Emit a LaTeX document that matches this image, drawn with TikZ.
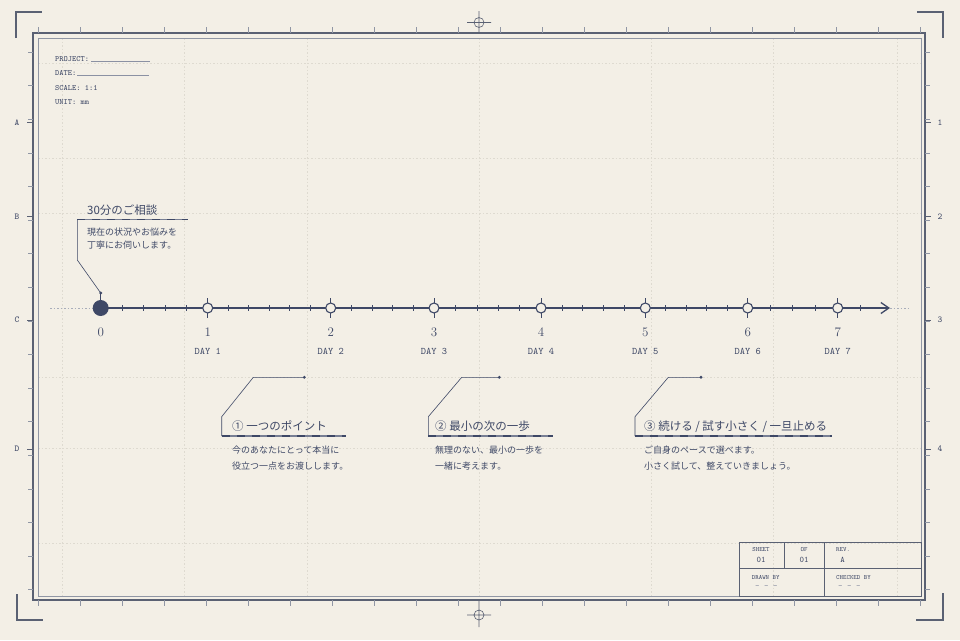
\documentclass[tikz,border=0pt]{standalone}
\usepackage{fontspec}
\newfontfamily\jpfont{Noto Sans CJK JP}
\usetikzlibrary{positioning, calc, arrows.meta}

\definecolor{paper}{HTML}{F3EFE6}
\definecolor{ink}{HTML}{3E4866}
\definecolor{framedark}{HTML}{5A6173}
\definecolor{framelight}{HTML}{9096A4}
\definecolor{gridline}{HTML}{DEDAD0}

\pgfdeclarelayer{paperlayer}
\pgfdeclarelayer{axislayer}
\pgfsetlayers{paperlayer,axislayer,main}

\tikzset{
	daynode/.style={circle, draw=ink, fill=paper, line width=1.1pt, inner sep=0pt, minimum size=10pt},
	startnode/.style={circle, fill=ink, inner sep=0pt, minimum size=16pt},
	daynum/.style={text=ink, inner sep=0pt, font=\fontsize{13}{13}\selectfont},
	daylabel/.style={text=ink, inner sep=0pt, font=\ttfamily\fontsize{10}{10}\selectfont},
	notetitle/.style={text=ink, inner sep=0pt, anchor=base west, font=\jpfont\fontsize{11.5}{11.5}\selectfont},
	notebody/.style={text=ink, inner sep=0pt, align=left, font=\jpfont\fontsize{9}{16}\selectfont},
	leader/.style={draw=ink, line width=0.6pt},
	underline/.style={draw=ink!70, line width=1.1pt, postaction={draw=ink, dash pattern=on 8pt off 7pt}},
	metatext/.style={text=ink, inner sep=0pt, anchor=base west, font=\ttfamily\fontsize{8}{8}\selectfont},
	metaline/.style={draw=ink!60, line width=0.6pt},
	blocktext/.style={text=ink, inner sep=0pt, font=\ttfamily\fontsize{6.5}{6.5}\selectfont},
	blockvalue/.style={text=ink, inner sep=0pt, font=\ttfamily\fontsize{8.5}{8.5}\selectfont},
	edgetick/.style={draw=framelight, line width=0.6pt},
	edgeletter/.style={text=ink, inner sep=0pt, font=\ttfamily\fontsize{9}{9}\selectfont},
	gridrule/.style={draw=gridline, line width=0.5pt, dash pattern=on 1.5pt off 2pt},
	axisext/.style={draw=ink!45, line width=0.5pt, dash pattern=on 1.5pt off 2pt},
}

\begin{document}
\begin{tikzpicture}[x=1pt, y=-1pt]
	\useasboundingbox (0,0) rectangle (960,640);
	\begin{pgfonlayer}{paperlayer}
		\fill[paper] (0,0) rectangle (960,640);
		\foreach \x in {62,184,307,479,651,773,897}
			\draw[gridrule] (\x,38) -- (\x,596);
		\foreach \y in {63,158,213,377,448,543}
			\draw[gridrule] (38,\y) -- (921,\y);
	\end{pgfonlayer}

	% sheet frame
	\draw[framedark, line width=1.6pt] (33,33) rectangle (925,600);
	\draw[framelight, line width=0.8pt] (38,38) rectangle (921,596);
	\foreach \x in {0,...,21} {
		\draw[edgetick] (38+42*\x,33) -- ++(0,-6);
		\draw[edgetick] (38+42*\x,600) -- ++(0,6);
	}
	\foreach \k in {0,...,16} {
		\draw[edgetick] (33,52+33.6*\k) -- ++(-5,0);
		\draw[edgetick] (925,52+33.6*\k) -- ++(5,0);
	}
	\foreach \y/\l/\r in {122.7/A/1, 216.7/B/2, 320/C/3, 449/D/4} {
		\draw[edgetick, draw=framedark] (33,\y) -- ++(-6,0);
		\draw[edgetick, draw=framedark] (925,\y) -- ++(6,0);
		\node[edgeletter] (left\l) at (17,\y) {\l};
		\node[edgeletter] (right\r) at (940,\y) {\r};
	}
	\draw[framedark, line width=1.2pt] (16,38) -- (16,12) -- (42,12);
	\draw[framedark, line width=1.2pt] (917,12) -- (943,12) -- (943,38);
	\draw[framedark, line width=1.2pt] (17,594) -- (17,620) -- (43,620);
	\draw[framedark, line width=1.2pt] (916,620) -- (943,620) -- (943,593);
	\draw[framedark, line width=0.6pt] (479,22.5) circle (5pt) (467,22.5) -- (491,22.5) (479,11) -- (479,33);
	\draw[framedark, line width=0.6pt] (479,615) circle (5pt) (467,615) -- (491,615) (479,600) -- (479,627);

	% sheet data
	\node[metatext] (project) at (55,61) {PROJECT:};
	\draw[metaline] (91,61) -- (150,61);
	\node[metatext] (date) at (55,75.2) {DATE:};
	\draw[metaline] (77,75.3) -- (149,75.3);
	\node[metatext] (scale) at (55,90.2) {SCALE: 1:1};
	\node[metatext] (unit) at (55,104.2) {UNIT: mm};

	% timeline
	\node[startnode] (d0) at (100.7,308) {};
	\node[daynode] (d1) at (207.7,308) {};
	\node[daynode] (d2) at (330.7,308) {};
	\node[daynode] (d3) at (434,308) {};
	\node[daynode] (d4) at (541,308) {};
	\node[daynode] (d5) at (645.3,308) {};
	\node[daynode] (d6) at (747.7,308) {};
	\node[daynode] (d7) at (837.7,308) {};
	\coordinate (tip) at (890,308);
	\coordinate (axisend) at (910,308);
	\coordinate (axisstart) at (50,308);
	\begin{pgfonlayer}{axislayer}
		\draw[ink, line width=1.3pt, -{Straight Barb[length=8pt, width=11pt]}] (d0.center) -- (tip);
		\draw[axisext] (tip) -- (axisend);
		\draw[axisext] (axisstart) -- (d0.west);
		\foreach \i in {1,...,7}
			\draw[ink, line width=0.9pt] (d\i.center) ++(0,-10) -- ++(0,20);
		\foreach \a/\b/\n/\m in {0/1/5/4, 1/2/6/5, 2/3/5/4, 3/4/5/4, 4/5/5/4, 5/6/5/4, 6/7/4/3}
			\foreach \k in {1,...,\m}
				\draw[ink, line width=0.6pt] ($(d\a.center)!\k/\n!(d\b.center)$) ++(0,-3) -- ++(0,6);
		\draw[ink, line width=0.6pt] ($(d6.center)!1.25!(d7.center)$) ++(0,-3) -- ++(0,6);
	\end{pgfonlayer}
	\foreach \i in {0,...,7} {
		\node[daynum, below=20pt of d\i.center] (n\i) {\i};
	}
	\foreach \i in {1,...,7} {
		\node[daylabel, below=11pt of n\i] (l\i) {DAY \i};
	}

	% first session
	\coordinate (stem) at (100.7,293);
	\coordinate (c0) at (77.3,219.3);
	\draw[leader] (d0.north) -- (stem);
	\fill[ink] (stem) circle (1.6pt);
	\draw[leader] (stem) -- (77.3,260) -- (c0);
	\draw[underline] (c0) -- (188,219.3);
	\node[notetitle] (t0) at (87,214.5) {30分のご相談};
	\node[notebody, font=\jpfont\fontsize{9}{13.3}\selectfont, below=13pt of t0.base west, anchor=north west] (b0) {現在の状況やお悩みを\\丁寧にお伺いします。};

	% notes
	\coordinate (k1) at (304.3,377.3);
	\coordinate (c1) at (221.7,436);
	\draw[leader] (k1) -- (253.3,377.3) -- (221.7,416.7) -- (c1);
	\fill[ink] (k1) circle (1.6pt);
	\draw[underline] (c1) -- (346,436);
	\node[notetitle] (t1) at (232,430.5) {① 一つのポイント};
	\node[notebody, below=15pt of t1.base west, anchor=north west] (b1) {今のあなたにとって本当に\\役立つ一点をお渡しします。};

	\coordinate (k2) at (499.3,377.3);
	\coordinate (c2) at (428.3,436);
	\draw[leader] (k2) -- (461.7,377.3) -- (428.3,416.7) -- (c2);
	\fill[ink] (k2) circle (1.6pt);
	\draw[underline] (c2) -- (553.3,436);
	\node[notetitle] (t2) at (435,430.5) {② 最小の次の一歩};
	\node[notebody, below=15pt of t2.base west, anchor=north west] (b2) {無理のない、最小の一歩を\\一緒に考えます。};

	\coordinate (k3) at (701,377.3);
	\coordinate (c3) at (635,436);
	\draw[leader] (k3) -- (668.3,377.3) -- (635,416.7) -- (c3);
	\fill[ink] (k3) circle (1.6pt);
	\draw[underline] (c3) -- (831.7,436);
	\node[notetitle] (t3) at (644,430.5) {③ 続ける / 試す小さく / 一旦止める};
	\node[notebody, below=15pt of t3.base west, anchor=north west] (b3) {ご自身のペースで選べます。\\小さく試して、整えていきましょう。};

	% title block
	\draw[framedark, line width=0.9pt] (739,542) rectangle (921,596);
	\draw[framedark, line width=0.9pt] (739,568) -- (921,568) (784,542) -- (784,568) (824,542) -- (824,596);
	\node[blocktext] (sheet) at (761,549.3) {SHEET};
	\node[blockvalue] (sheetno) at (761,560) {01};
	\node[blocktext] (of) at (804,549.3) {OF};
	\node[blockvalue] (ofno) at (804,560) {01};
	\node[blocktext, anchor=west] (rev) at (836,549.3) {REV.};
	\node[blockvalue] (revno) at (842.7,560) {A};
	\node[blocktext, anchor=west] (drawn) at (751.7,577.3) {DRAWN BY};
	\node[blockvalue, anchor=west, text=ink!60] (drawnby) at (755,587) {- - -};
	\node[blocktext, anchor=west] (checked) at (836,577.3) {CHECKED BY};
	\node[blockvalue, anchor=west, text=ink!60] (checkedby) at (838,587) {- - -};
\end{tikzpicture}
\end{document}
